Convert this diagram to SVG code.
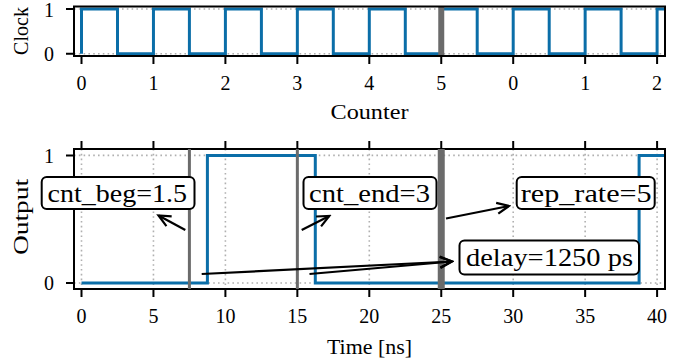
<svg xmlns="http://www.w3.org/2000/svg" width="681" height="364" viewBox="0 0 681 364">
  <style>
    text { font-family: "Liberation Serif", "DejaVu Serif", serif; fill: #000; }
    .tick { font-size: 20px; text-anchor: middle; }
    .ytick { font-size: 20px; text-anchor: end; }
    .label { font-size: 20px; text-anchor: middle; }
    .ylabel { font-size: 20px; text-anchor: middle; }
    .note { font-size: 26px; }
    .frame { fill: none; stroke: #000; stroke-width: 2; }
    .tk { stroke: #000; stroke-width: 2; }
    .grid { stroke: #b0b0b0; stroke-width: 1.6; stroke-dasharray: 1.6 3.2; fill: none; }
    .sig { fill: none; stroke: #0b6ea8; stroke-width: 3; stroke-linejoin: miter; }
    .mark { stroke: #6b6b6b; }
    .box { fill: #fff; stroke: #000; stroke-width: 2; }
    .arrow { fill: none; stroke: #000; stroke-width: 2.2; marker-end: url(#head); }
  </style>
  <defs>
    <marker id="head" markerUnits="userSpaceOnUse" markerWidth="16" markerHeight="16" refX="0" refY="0" viewBox="-13 -8 15 16" orient="auto">
      <path d="M-12,-5.5 L0,0 L-12,5.5" fill="none" stroke="#000" stroke-width="2.2"/>
    </marker>
    <clipPath id="clipTop"><rect x="74" y="6.5" width="591" height="49.5"/></clipPath>
    <clipPath id="clipBot"><rect x="74" y="149" width="591" height="140"/></clipPath>
  </defs>

  <!-- Clock panel -->
  <g id="clock-panel">
    <g clip-path="url(#clipTop)">
      <path class="grid" d="M74,9 H665 M74,53.7 H665"/>
      <path class="sig" d="M81.5,53.7 V9 H117.5 V53.7 H153.45 V9 H189.4 V53.7 H225.4 V9 H261.4 V53.7 H297.35 V9 H333.3 V53.7 H369.3 V9 H405.3 V53.7 H441.25 V9 H477.2 V53.7 H513.2 V9 H549.2 V53.7 H585.15 V9 H621.1 V53.7 H657.1 V9 H666"/>
      <line class="mark" x1="441.25" y1="6" x2="441.25" y2="57" stroke-width="6"/>
    </g>
    <rect class="frame" x="74" y="6.5" width="591" height="49.5"/>
    <path class="tk" d="M66,9 H74 M66,53.7 H74 M81.5,56 V64 M153.45,56 V64 M225.4,56 V64 M297.35,56 V64 M369.3,56 V64 M441.25,56 V64 M513.2,56 V64 M585.15,56 V64 M657.1,56 V64"/>
    <text class="ytick" x="54" y="16.5">1</text>
    <text class="ytick" x="54" y="60.7">0</text>
    <text class="tick" x="81.5" y="90">0</text>
    <text class="tick" x="153.45" y="90">1</text>
    <text class="tick" x="225.4" y="90">2</text>
    <text class="tick" x="297.35" y="90">3</text>
    <text class="tick" x="369.3" y="90">4</text>
    <text class="tick" x="441.25" y="90">5</text>
    <text class="tick" x="513.2" y="90">0</text>
    <text class="tick" x="585.15" y="90">1</text>
    <text class="tick" x="657.1" y="90">2</text>
    <text class="label" x="369.5" y="119" textLength="78" lengthAdjust="spacingAndGlyphs">Counter</text>
    <text class="ylabel" transform="translate(28,31) rotate(-90)" textLength="48" lengthAdjust="spacingAndGlyphs">Clock</text>
  </g>

  <!-- Output panel -->
  <g id="output-panel">
    <g clip-path="url(#clipBot)">
      <path class="grid" d="M74,155.4 H665 M74,283 H665 M81.5,149 V289 M153.45,149 V289 M225.4,149 V289 M297.35,149 V289 M369.3,149 V289 M441.25,149 V289 M513.2,149 V289 M585.15,149 V289 M657.1,149 V289"/>
      <path class="sig" d="M81.5,283 H207.4 V155.4 H315.3 V283 H639.1 V155.4 H666"/>
    </g>
    <rect class="frame" x="74" y="149" width="591" height="140"/>
    <path class="tk" d="M66,155.4 H74 M66,283 H74 M81.5,289 V297 M153.45,289 V297 M225.4,289 V297 M297.35,289 V297 M369.3,289 V297 M441.25,289 V297 M513.2,289 V297 M585.15,289 V297 M657.1,289 V297 M81.5,141 V149 M153.45,141 V149 M225.4,141 V149 M297.35,141 V149 M369.3,141 V149 M441.25,141 V149 M513.2,141 V149 M585.15,141 V149 M657.1,141 V149"/>
    <text class="ytick" x="54" y="163">1</text>
    <text class="ytick" x="54" y="290">0</text>
    <text class="tick" x="81.5" y="323">0</text>
    <text class="tick" x="153.45" y="323">5</text>
    <text class="tick" x="225.4" y="323">10</text>
    <text class="tick" x="297.35" y="323">15</text>
    <text class="tick" x="369.3" y="323">20</text>
    <text class="tick" x="441.25" y="323">25</text>
    <text class="tick" x="513.2" y="323">30</text>
    <text class="tick" x="585.15" y="323">35</text>
    <text class="tick" x="657.1" y="323">40</text>
    <text class="label" x="369.5" y="354" textLength="85" lengthAdjust="spacingAndGlyphs">Time [ns]</text>
    <text class="ylabel" transform="translate(28,217) rotate(-90)" textLength="76" lengthAdjust="spacingAndGlyphs">Output</text>
  </g>

  <!-- Event markers -->
  <g id="markers">
    <line class="mark" x1="189.4" y1="149" x2="189.4" y2="289" stroke-width="3"/>
    <line class="mark" x1="297.35" y1="149" x2="297.35" y2="289" stroke-width="3"/>
    <line class="mark" x1="441.25" y1="149" x2="441.25" y2="289" stroke-width="7"/>
  </g>

  <!-- Connectors -->
  <g id="connectors">
    <line class="arrow" x1="185.3" y1="230" x2="158.5" y2="215.5"/>
    <line class="arrow" x1="301.7" y1="230" x2="329.3" y2="216"/>
    <line class="arrow" x1="446" y1="218.5" x2="509" y2="206"/>
    <line class="arrow" x1="201.7" y1="274" x2="452" y2="261.5"/>
    <line class="arrow" x1="309.5" y1="274" x2="452" y2="261.5"/>
  </g>

  <!-- Annotation boxes -->
  <g id="cnt-beg">
    <rect class="box" x="41.7" y="177" width="152.8" height="32" rx="5"/>
    <text class="note" x="47.5" y="201.5" textLength="139.5" lengthAdjust="spacingAndGlyphs">cnt_beg=1.5</text>
  </g>
  <g id="cnt-end">
    <rect class="box" x="303.5" y="177" width="133" height="32" rx="5"/>
    <text class="note" x="309" y="201.5" textLength="121" lengthAdjust="spacingAndGlyphs">cnt_end=3</text>
  </g>
  <g id="rep-rate">
    <rect class="box" x="516.7" y="177" width="138" height="32" rx="5"/>
    <text class="note" x="520.7" y="201.5" textLength="131" lengthAdjust="spacingAndGlyphs">rep_rate=5</text>
  </g>
  <g id="delay">
    <rect class="box" x="459.5" y="240.5" width="179.5" height="34" rx="5"/>
    <text class="note" x="466" y="265.5" textLength="167" lengthAdjust="spacingAndGlyphs">delay=1250 ps</text>
  </g>
</svg>
